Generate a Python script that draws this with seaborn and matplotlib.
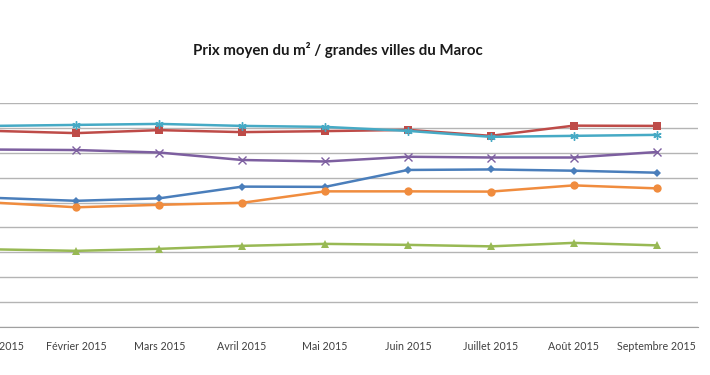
import matplotlib
matplotlib.use("Agg")
import matplotlib.pyplot as plt
import pandas as pd
import seaborn as sns

# mois (axe x)
months = ["Janvier 2015", "Février 2015", "Mars 2015", "Avril 2015", "Mai 2015",
          "Juin 2015", "Juillet 2015", "Août 2015", "Septembre 2015"]

# prix moyen du m2 par ville
serie_bleue = [10380, 10140, 10340, 11280, 11260, 12620, 12660, 12560, 12400]
serie_rouge = [15760, 15580, 15820, 15660, 15740, 15840, 15360, 16180, 16160]
serie_verte = [6240, 6120, 6280, 6520, 6680, 6600, 6480, 6760, 6560]
serie_violette = [14260, 14220, 14020, 13420, 13300, 13680, 13620, 13620, 14060]
serie_cyan = [16160, 16240, 16320, 16160, 16080, 15760, 15280, 15360, 15440]
serie_orange = [10000, 9620, 9820, 9980, 10900, 10900, 10880, 11380, 11140]

series = [
    ("bleue", serie_bleue, "#4A7EBB", "D"),
    ("rouge", serie_rouge, "#BE4B48", "s"),
    ("verte", serie_verte, "#98B954", "^"),
    ("violette", serie_violette, "#7D5FA0", "x"),
    ("cyan", serie_cyan, "#46AAC5", (6, 2, 0)),
    ("orange", serie_orange, "#F08C3E", "o"),
]

sns.set_style("white")
plt.rcParams["font.family"] = ["Lato", "DejaVu Sans"]

fig = plt.figure(figsize=(7.1, 3.75), dpi=100)
ax = fig.add_axes([-48 / 710, 48 / 375, 746 / 710, 224 / 375])

for name, vals, color, marker in series:
    df = pd.DataFrame({"mois": months, "prix": vals})
    filled = marker not in ("x", (6, 2, 0))
    sns.lineplot(data=df, x="mois", y="prix", ax=ax, color=color, marker=marker,
                 markersize=6 if marker != "D" else 4.5,
                 markeredgewidth=0 if filled else 1.0,
                 markeredgecolor=color, linewidth=1.8, legend=False, sort=False)

ax.set_xlim(-0.5, 8.5)
ax.set_ylim(0, 18000)
ax.set_yticks(range(0, 18001, 2000))
ax.yaxis.grid(True, color="#B4B4B4", linewidth=1.0)
ax.set_axisbelow(True)
ax.set_xlabel("")
ax.set_ylabel("")
ax.tick_params(axis="y", left=False, labelleft=False)
ax.set_xticks([i - 0.5 for i in range(10)], minor=True)
ax.tick_params(axis="x", which="major", length=0, labelsize=7.7, colors="#404040", pad=10)
ax.tick_params(axis="x", which="minor", length=4, color="#A0A0A0", width=1)
for side in ["top", "left", "right"]:
    ax.spines[side].set_visible(False)
ax.spines["bottom"].set_color("#A0A0A0")

fig.text(338 / 710, 1 - 50 / 375, "Prix moyen du m² / grandes villes du Maroc",
         ha="center", va="center", fontsize=10.8, fontweight="bold", color="#1A1A1A")

fig.savefig("out.png", dpi=100)
